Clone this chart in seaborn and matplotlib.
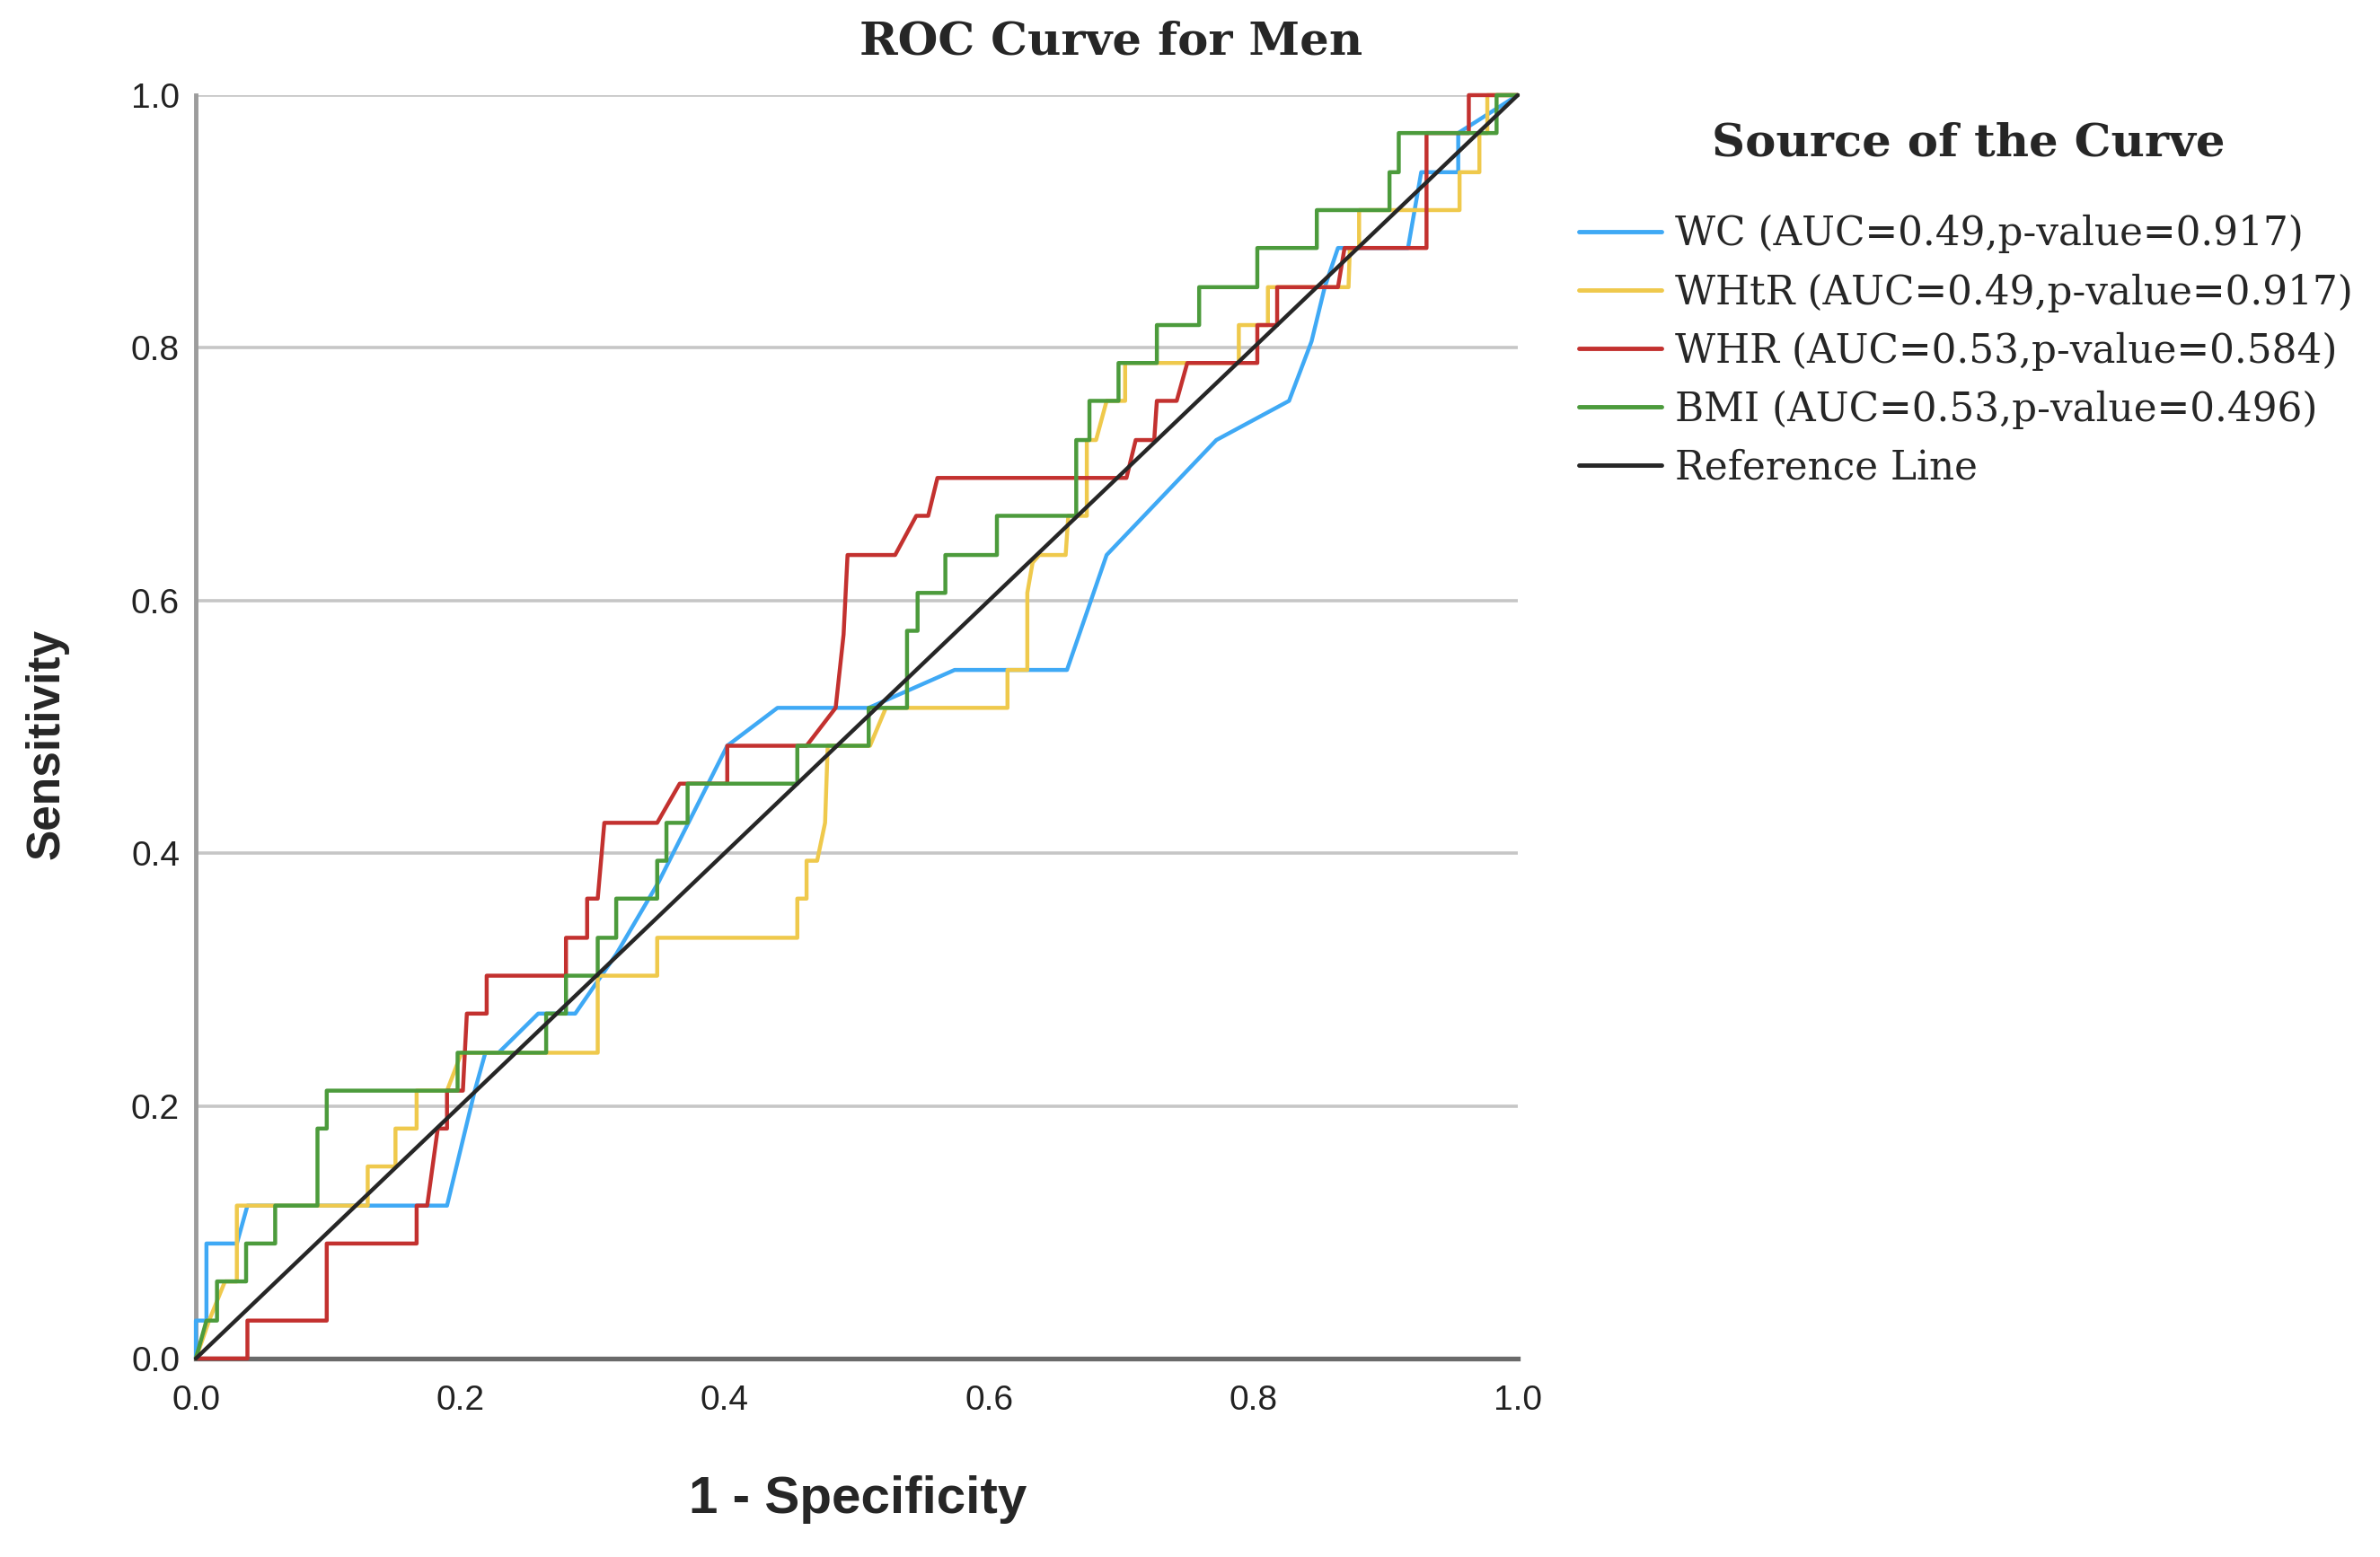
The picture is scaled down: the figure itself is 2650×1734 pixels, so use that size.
import pandas as pd
import matplotlib.pyplot as plt
import seaborn as sns

# Colours
WC_COLOR = "#3FA9F5"
WHTR_COLOR = "#EFC94C"
WHR_COLOR = "#C3312F"
BMI_COLOR = "#4C9B3C"
REF_COLOR = "#262626"

curve_names = [
    "WC (AUC=0.49,p-value=0.917)",
    "WHtR (AUC=0.49,p-value=0.917)",
    "WHR (AUC=0.53,p-value=0.584)",
    "BMI (AUC=0.53,p-value=0.496)",
    "Reference Line",
]

tick_values = [0.0, 0.2, 0.4, 0.6, 0.8, 1.0]
tick_labels = ["0.0", "0.2", "0.4", "0.6", "0.8", "1.0"]

# WC (blue)
wc_x = [0.0, 0.0, 0.008, 0.008, 0.031, 0.039, 0.190, 0.211, 0.219, 0.229, 0.259, 0.287,
        0.318, 0.350, 0.402, 0.440, 0.509, 0.574, 0.659, 0.689, 0.772, 0.827, 0.844,
        0.854, 0.864, 0.917, 0.927, 0.955, 0.955, 1.0]
wc_y = [0.0, 0.030, 0.030, 0.091, 0.091, 0.121, 0.121, 0.212, 0.242, 0.242, 0.273, 0.273,
        0.320, 0.377, 0.485, 0.515, 0.515, 0.545, 0.545, 0.636, 0.727, 0.758, 0.805,
        0.848, 0.879, 0.879, 0.939, 0.939, 0.970, 1.0]

# WHtR (yellow)
whtr_x = [0.0, 0.010, 0.022, 0.031, 0.031, 0.130, 0.130, 0.151, 0.151, 0.167, 0.167, 0.190,
          0.201, 0.304, 0.304, 0.349, 0.349, 0.455, 0.455, 0.462, 0.462, 0.470, 0.476,
          0.478, 0.510, 0.522, 0.614, 0.614, 0.629, 0.629, 0.633, 0.638, 0.658, 0.660,
          0.674, 0.674, 0.681, 0.689, 0.703, 0.703, 0.789, 0.789, 0.811, 0.811, 0.872,
          0.873, 0.880, 0.880, 0.956, 0.956, 0.971, 0.971, 0.977, 0.977, 1.0]
whtr_y = [0.0, 0.030, 0.061, 0.061, 0.121, 0.121, 0.152, 0.152, 0.182, 0.182, 0.212, 0.212,
          0.242, 0.242, 0.303, 0.303, 0.333, 0.333, 0.364, 0.364, 0.394, 0.394, 0.424,
          0.485, 0.485, 0.515, 0.515, 0.545, 0.545, 0.606, 0.630, 0.636, 0.636, 0.667,
          0.667, 0.727, 0.727, 0.758, 0.758, 0.788, 0.788, 0.818, 0.818, 0.848, 0.848,
          0.879, 0.879, 0.909, 0.909, 0.939, 0.939, 0.970, 0.970, 1.0, 1.0]

# WHR (red)
whr_x = [0.0, 0.039, 0.039, 0.099, 0.099, 0.167, 0.167, 0.175, 0.183, 0.190, 0.190, 0.202,
         0.205, 0.220, 0.220, 0.280, 0.280, 0.296, 0.296, 0.304, 0.309, 0.349, 0.366,
         0.402, 0.402, 0.462, 0.484, 0.490, 0.493, 0.529, 0.545, 0.554, 0.561, 0.704,
         0.711, 0.725, 0.727, 0.742, 0.750, 0.803, 0.803, 0.818, 0.818, 0.864, 0.869,
         0.931, 0.931, 0.963, 0.963, 1.0]
whr_y = [0.0, 0.0, 0.030, 0.030, 0.091, 0.091, 0.121, 0.121, 0.182, 0.182, 0.212, 0.212,
         0.273, 0.273, 0.303, 0.303, 0.333, 0.333, 0.364, 0.364, 0.424, 0.424, 0.455,
         0.455, 0.485, 0.485, 0.515, 0.573, 0.636, 0.636, 0.667, 0.667, 0.697, 0.697,
         0.727, 0.727, 0.758, 0.758, 0.788, 0.788, 0.818, 0.818, 0.848, 0.848, 0.879,
         0.879, 0.970, 0.970, 1.0, 1.0]

# BMI (green)
bmi_x = [0.0, 0.008, 0.016, 0.016, 0.038, 0.038, 0.060, 0.060, 0.092, 0.092, 0.099, 0.099,
         0.198, 0.198, 0.265, 0.265, 0.280, 0.280, 0.304, 0.304, 0.318, 0.318, 0.349,
         0.349, 0.356, 0.356, 0.372, 0.372, 0.455, 0.455, 0.509, 0.509, 0.538, 0.538,
         0.546, 0.546, 0.567, 0.567, 0.606, 0.606, 0.666, 0.666, 0.676, 0.676, 0.698,
         0.698, 0.727, 0.727, 0.759, 0.759, 0.803, 0.803, 0.848, 0.848, 0.903, 0.903,
         0.910, 0.910, 0.984, 0.984, 1.0]
bmi_y = [0.0, 0.030, 0.030, 0.061, 0.061, 0.091, 0.091, 0.121, 0.121, 0.182, 0.182, 0.212,
         0.212, 0.242, 0.242, 0.273, 0.273, 0.303, 0.303, 0.333, 0.333, 0.364, 0.364,
         0.394, 0.394, 0.424, 0.424, 0.455, 0.455, 0.485, 0.485, 0.515, 0.515, 0.576,
         0.576, 0.606, 0.606, 0.636, 0.636, 0.667, 0.667, 0.727, 0.727, 0.758, 0.758,
         0.788, 0.788, 0.818, 0.818, 0.848, 0.848, 0.879, 0.879, 0.909, 0.909, 0.939,
         0.939, 0.970, 0.970, 1.0, 1.0]

# Reference line
ref_x = [0.0, 1.0]
ref_y = [0.0, 1.0]


def curve_frame(xs, ys, name):
    return pd.DataFrame({"fpr": xs, "tpr": ys, "curve": name})


df = pd.concat([
    curve_frame(wc_x, wc_y, curve_names[0]),
    curve_frame(whtr_x, whtr_y, curve_names[1]),
    curve_frame(whr_x, whr_y, curve_names[2]),
    curve_frame(bmi_x, bmi_y, curve_names[3]),
    curve_frame(ref_x, ref_y, curve_names[4]),
], ignore_index=True)

sns.set_style("white")

fig = plt.figure(figsize=(26.5, 17.34), dpi=100)
ax = fig.add_axes([0.0823, 0.1275, 0.5554, 0.8114])

sns.lineplot(
    data=df, x="fpr", y="tpr", hue="curve", hue_order=curve_names,
    palette=[WC_COLOR, WHTR_COLOR, WHR_COLOR, BMI_COLOR, REF_COLOR],
    sort=False, estimator=None, linewidth=3.2, clip_on=False, ax=ax, zorder=3,
)

ax.set_xlim(0, 1)
ax.set_ylim(0, 1)
ax.set_xticks(tick_values)
ax.set_xticklabels(tick_labels, family="Liberation Sans", fontsize=28)
ax.set_yticks(tick_values)
ax.set_yticklabels(tick_labels, family="Liberation Sans", fontsize=28)
ax.tick_params(axis="x", length=0, pad=21, colors="#222222")
ax.tick_params(axis="y", length=0, pad=13, colors="#222222")

ax.yaxis.grid(True, color="#C6C6C6", linewidth=2.6)
ax.xaxis.grid(False)
ax.set_axisbelow(True)
for side in ["top", "right"]:
    ax.spines[side].set_visible(False)
ax.spines["left"].set_color("#9C9C9C")
ax.spines["left"].set_linewidth(3.5)
ax.spines["bottom"].set_color("#6A6A6A")
ax.spines["bottom"].set_linewidth(3.8)
ax.set_xlabel("")
ax.set_ylabel("")

# Titles and axis labels
fig.text(0.467, 0.973, "ROC Curve for Men", family="DejaVu Serif", fontweight="bold",
         fontsize=37, ha="center", va="center")
fig.text(0.3604, 0.037, "1 - Specificity", family="Liberation Sans", fontweight="bold",
         fontsize=42, ha="center", va="center")
fig.text(0.0196, 0.5225, "Sensitivity", family="Liberation Sans", fontweight="bold",
         fontsize=37, ha="center", va="center", rotation=90)

# Legend
leg = ax.get_legend()
handles = leg.legend_handles
names = [t.get_text() for t in leg.get_texts()]
leg.remove()
for h in handles:
    h.set_linewidth(3.5)
fig.text(0.827, 0.908, "Source of the Curve", family="DejaVu Serif", fontweight="bold",
         fontsize=37, ha="center", va="center")
ax.legend(handles, names, loc="upper left", bbox_to_anchor=(0.6634, 0.862),
          bbox_transform=fig.transFigure, frameon=False,
          prop={"family": "DejaVu Serif", "size": 31.5}, handlelength=2.1,
          handletextpad=0.35, labelspacing=0.5, borderpad=0, borderaxespad=0)

plt.savefig("out.png", dpi=100, facecolor="white")
